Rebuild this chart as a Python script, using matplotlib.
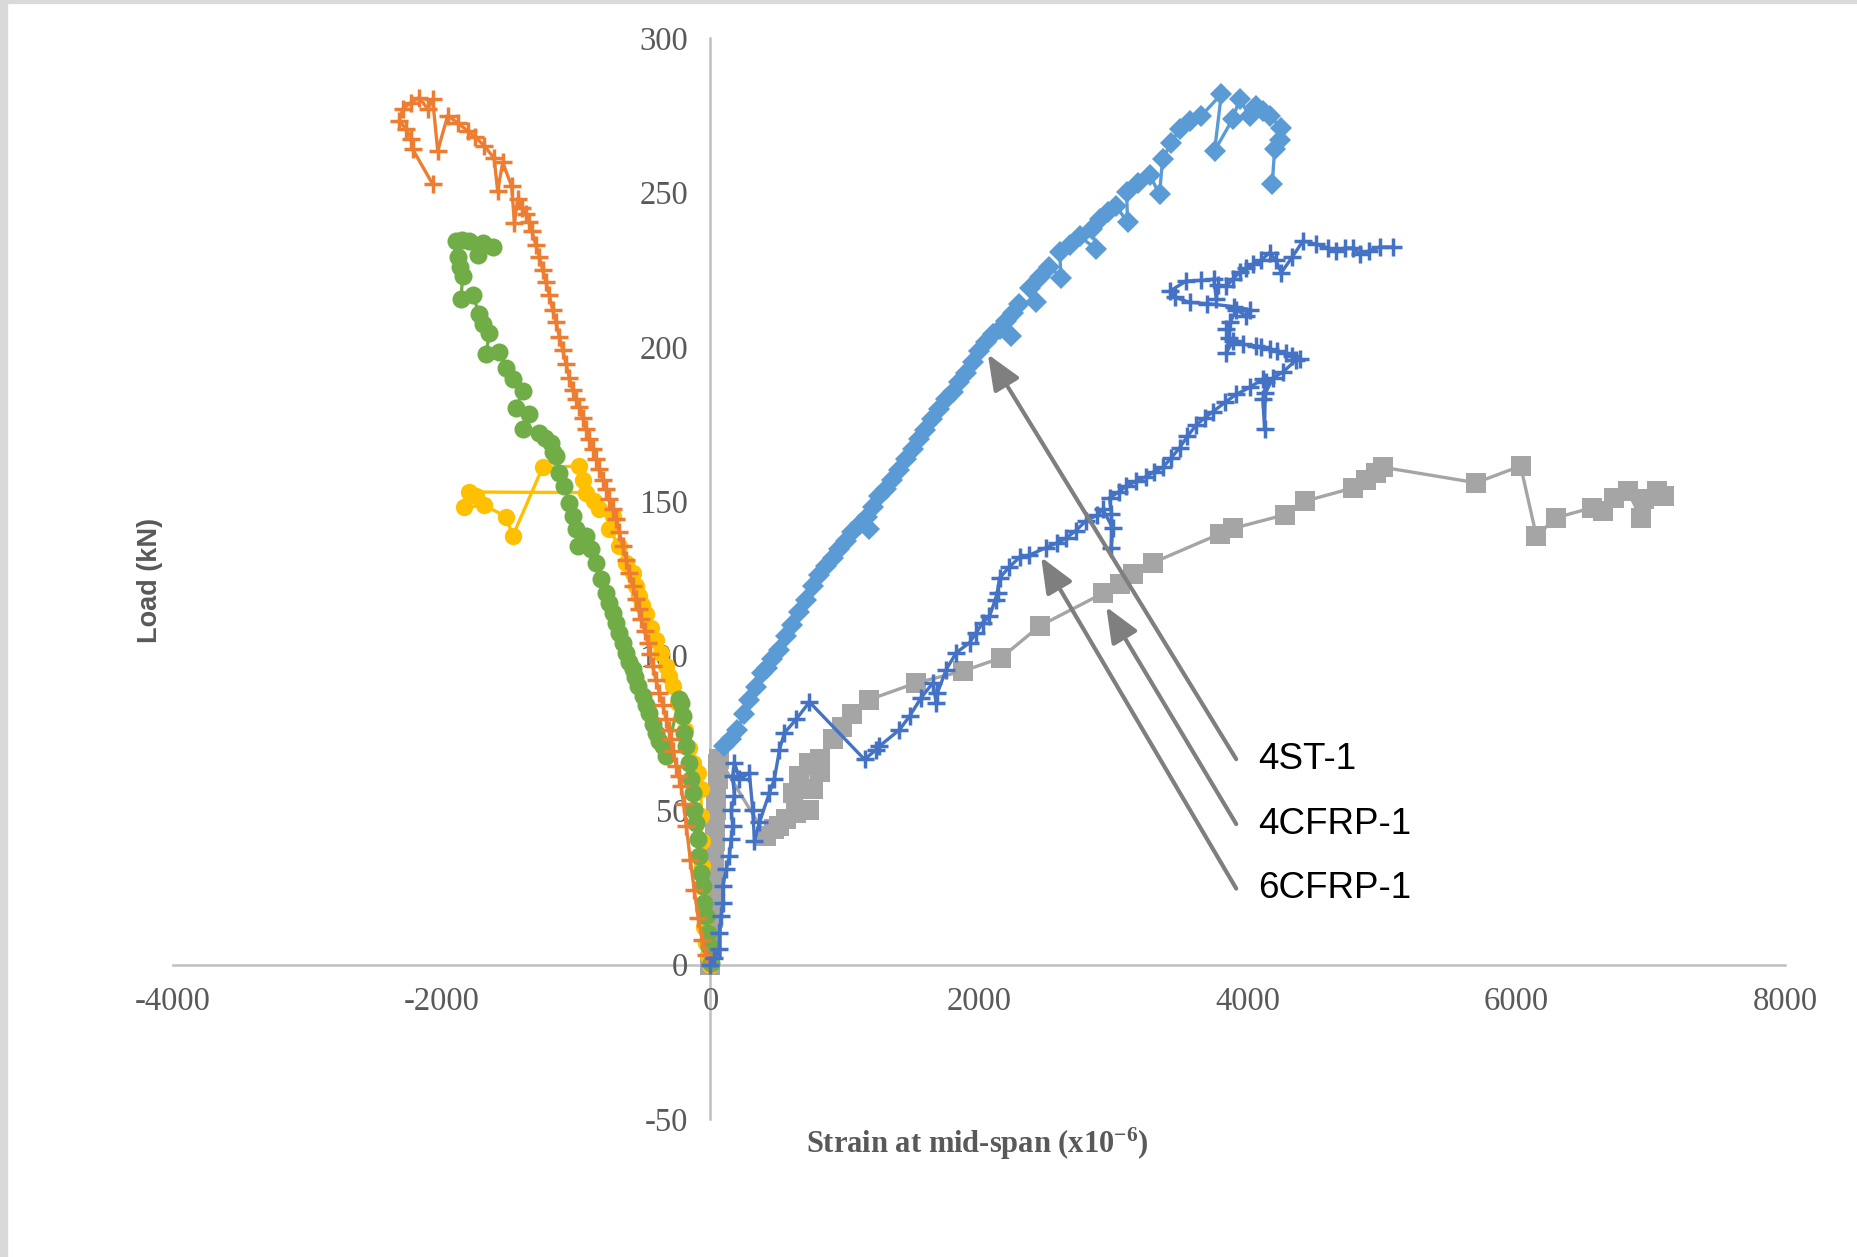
import matplotlib.pyplot as plt
from matplotlib.lines import Line2D

plt.rcParams['axes.unicode_minus'] = False
plt.rcParams['mathtext.fontset'] = 'custom'
plt.rcParams['mathtext.rm'] = 'Liberation Serif:bold'
plt.rcParams['mathtext.default'] = 'rm'

# strain (x10^-6) / load (kN) for each gauge series
blue_strain = [0, 30, 67, 67, 80, 92, 92, 117, 141, 154, 166, 154, 179, 166, 179, 216, 290, 315, 328, 365, 439, 476,
               514, 551, 638, 737, 1147, 1234, 1258, 1407, 1482, 1569, 1656, 1680, 1690, 1755, 1830, 1929, 1978, 2028,
               2077, 2137, 2127, 2152, 2226, 2301, 2375, 2500, 2580, 2649, 2720, 2797, 2880, 2921, 2996, 2984, 2985,
               2971, 3040, 3095, 3170, 3244, 3300, 3368, 3430, 3492, 3550, 3616, 3680, 3740, 3830, 3914, 4020, 4112,
               4138, 4112, 4125, 4130, 4190, 4261, 4361, 4386, 4330, 4287, 4220, 4162, 4100, 4063, 3964, 3889, 3840,
               3860, 3840, 3870, 3914, 3989, 4013, 3900, 3700, 3567, 3460, 3418, 3542, 3650, 3747, 3766, 3780, 3840,
               3890, 3939, 3990, 4039, 4100, 4162, 4210, 4249, 4330, 4411, 4510, 4600, 4659, 4720, 4784, 4833, 4900,
               4981, 5080]
blue_load = [0, 2, 4.9, 10.3, 15.6, 20, 25.4, 30.8, 35, 40.5, 44.8, 50, 54.5, 61, 65.4, 60, 62, 50, 40, 46, 55.6, 60,
             69.6, 75, 79.4, 85, 66.4, 69.6, 70.7, 76, 80.4, 86.4, 91.2, 84.8, 88, 95.5, 101, 104.2, 107.4, 110.7,
             112.7, 120.2, 118, 125.1, 128.8, 131.8, 132.6, 135, 136.5, 138.1, 140.5, 143.7, 145.5, 147.4, 141.2, 135,
             146, 151.1, 153, 154.9, 156.5, 158, 159.5, 161, 164, 167.3, 171, 174.7, 177, 179, 182, 184.6, 187, 189.6,
             188.5, 183, 173.5, 185, 190, 191.8, 195.8, 196, 197, 198, 198.5, 199.2, 200, 200.3, 200.8, 202, 198,
             203, 205.7, 208, 212, 210, 212, 213, 214, 214.4, 216, 218, 221.3, 221.5, 221.9, 215.4, 220, 219.6,
             222, 224.1, 225.5, 226.7, 228, 230.5, 228, 224, 229, 234.3, 233.2, 232, 231, 232, 232, 230, 231,
             232.3, 232.3]

orange_strain = [0, -30, -60, -90, -120, -150, -180, -200, -218, -236, -255, -275, -293, -312, -330, -355, -380, -405,
                 -430, -450, -467, -490, -516, -535, -553, -578, -603, -628, -653, -678, -703, -727, -752, -777, -802,
                 -826, -851, -876, -901, -926, -950, -975, -1000, -1025, -1050, -1075, -1100, -1124, -1150, -1175,
                 -1199, -1225, -1250, -1273, -1300, -1330, -1352, -1372, -1400, -1435, -1459, -1480, -1546, -1584,
                 -1610, -1683, -1750, -1807, -1880, -1956, -2030, -2068, -2105, -2167, -2229, -2291, -2316, -2266,
                 -2229, -2217, -2068]
orange_load = [0, 3, 8, 15, 24, 34, 45, 52, 57.8, 61, 64.2, 69, 72.9, 76, 79.4, 84, 88, 92, 96.6, 100.5, 104.2, 108,
               111.8, 115, 118.2, 122.5, 126.9, 131, 135.5, 140, 144.2, 147.5, 150.6, 154, 157, 160.5, 163.6, 167, 170,
               173.5, 177, 180.5, 183, 186, 190, 194.5, 199, 203.2, 208, 212, 216.8, 221, 225, 229.2, 233, 237.5,
               240.5, 243, 245, 247.8, 240.2, 252, 259.7, 250.5, 261, 265.1, 267.8, 269.9, 272.5, 274.8, 263.5, 280.2,
               277, 280.7, 279.1, 277, 273.2, 270.5, 267.3, 264, 252.7]

gray_strain = [0, 10, 15, 20, 22, 25, 28, 30, 32, 35, 38, 45, 55, 60, 67, 415, 470, 514, 560, 638, 737, 611, 663, 737,
               760, 812, 812, 909, 983, 1057, 1184, 1532, 1879, 2164, 2450, 2922, 3046, 3144, 3293, 3790, 3889, 4274,
               4423, 4783, 4882, 4951, 5006, 5699, 6031, 6148, 6297, 6563, 6646, 6729, 6828, 6928, 6946, 7044, 7095]
gray_load = [0, 5, 10, 15, 20, 25, 30, 35, 40, 45, 50, 55, 60, 65, 66.4, 41.6, 44, 44.8, 47, 49.1, 50.2, 55.7, 61,
             65.4, 56.7, 62.2, 66.4, 73, 77, 81, 85.8, 91.2, 95, 99.3, 109.6, 120.2, 123.3, 126.3, 130.1, 139.4,
             141.2, 145.6, 150, 154.3, 156.8, 159.3, 161, 156, 161.4, 138.8, 144.7, 147.9, 146.8, 151.2, 153.3,
             144.7, 150.6, 153.3, 151.7]

yellow_strain = [0, -20, -35, -45, -52, -58, -62, -66, -69, -69, -95, -132, -160, -190, -215, -243, -281, -310, -330,
                 -370, -405, -442, -480, -510, -529, -553, -579, -628, -680, -752, -727, -827, -870, -926, -1794,
                 -1745, -1832, -1683, -1521, -1472, -1249, -975, -951]
yellow_load = [0, 3, 7, 12, 18, 25, 32, 40, 48, 56.7, 62.1, 65.3, 70, 76, 80.5, 84.8, 90.2, 93.5, 96.6, 101, 105,
               109, 113.5, 116.5, 119.3, 122.5, 126.9, 130.1, 135.5, 140.9, 145.2, 147.4, 150, 152.8, 153, 151.7,
               148, 148.7, 145, 138.7, 161, 161.4, 157]

ltblue_strain = [104, 150, 201, 250, 290, 340, 387, 420, 462, 510, 566, 610, 663, 710, 760, 810, 864, 910, 960, 1010,
                 1057, 1184, 1110, 1162, 1210, 1258, 1305, 1355, 1405, 1459, 1505, 1556, 1600, 1653, 1705, 1757,
                 1805, 1854, 1900, 1951, 2000, 2055, 2101, 2152, 2241, 2200, 2249, 2300, 2427, 2380, 2450, 2524,
                 2611, 2599, 2680, 2748, 2872, 2840, 2897, 2960, 3020, 3105, 3098, 3180, 3269, 3343, 3366, 3430,
                 3492, 3570, 3654, 3803, 3753, 3887, 3939, 4013, 4063, 4110, 4162, 4249, 4238, 4200, 4182]
ltblue_load = [70.7, 73, 76, 81, 85.8, 90, 94.5, 96, 98.8, 102, 106.3, 110, 114, 118, 122.5, 126, 129, 131.5, 134.4,
               137, 140, 141, 142.5, 145, 148, 151.6, 154, 157, 160, 163.6, 167, 170, 173, 176.5, 180, 183, 185.5,
               188.5, 191.5, 195, 198.5, 201.5, 204, 205.7, 203.5, 208.5, 211, 214, 214.4, 219, 222.5, 226, 222.4,
               230.6, 233, 235.8, 231.6, 238, 241.4, 243.5, 245.6, 240.3, 250, 253, 255.7, 249.4, 260.8, 266,
               270.5, 273, 274.8, 281.8, 263.5, 273.7, 280.2, 274.8, 278, 276.5, 274.8, 271, 267, 264, 252.7]

green_strain = [5, -7, -20, -32, -45, -57, -69, -82, -94, -107, -119, -132, -144, -156, -181, -194, -206, -218, -231,
                -330, -355, -380, -405, -430, -454, -479, -504, -541, -560, -579, -603, -628, -653, -678, -703, -727,
                -752, -777, -814, -851, -888, -926, -988, -1000, -1025, -1050, -1087, -1124, -1149, -1174, -1186,
                -1230, -1273, -1398, -1348, -1447, -1398, -1472, -1521, -1571, -1670, -1646, -1690, -1720, -1770,
                -1857, -1844, -1865, -1882, -1894, -1850, -1795, -1695, -1621, -1733]
green_load = [0.5, 6, 10.3, 15.6, 20, 25.4, 29.7, 35, 40.5, 45.9, 50.2, 55.6, 60, 65.3, 70.7, 75, 80.4, 84.8, 86,
              67.5, 70.7, 72.5, 75, 78, 81.5, 84, 86.9, 90.2, 93, 95.6, 98, 101, 104, 107.4, 110.5, 113.9, 117,
              120.4, 124.7, 130.1, 134.4, 138.8, 135.5, 140.9, 145.2, 149.5, 154.9, 159.3, 164.6, 166, 168.9, 170.5,
              172.2, 173.4, 178.4, 180.2, 185.8, 189.5, 193.3, 198.2, 197.6, 204.4, 207.5, 210.6, 216.8, 215.6, 223,
              226, 229.2, 234.2, 234.5, 234.2, 233.5, 232.3, 229.8]

# annotation labels: text, arrow head (strain, load), label height (load)
labels = ['4ST-1', '4CFRP-1', '6CFRP-1']
heads = [(2065, 197.6), (2946, 115.8), (2462, 131.9)]
tail_loads = [66.5, 45.5, 24.6]
tail_strain = 3914

fig = plt.figure(figsize=(18.57, 12.57), dpi=100)
ax = fig.add_axes([0.0932, 0.1098, 0.8681, 0.8600])

ax.plot(gray_strain, gray_load, color='#A5A5A5', lw=2.4, marker='s', ms=14, mew=0, zorder=2)
ax.plot(yellow_strain, yellow_load, color='#FFC000', lw=2.4, marker='o', ms=12.5, mew=0, zorder=3)
ax.plot(ltblue_strain, ltblue_load, color='#5B9BD5', lw=2.4, marker='D', ms=11.5, mew=0, zorder=4)
ax.plot(green_strain, green_load, color='#70AD47', lw=2.4, marker='o', ms=13, mew=0, zorder=5)
ax.plot(orange_strain, orange_load, color='#ED7D31', lw=2.4, marker='+', ms=13, mew=2.5, zorder=6)
ax.plot(blue_strain, blue_load, color='#4472C4', lw=2.4, marker='+', ms=13, mew=2.5, zorder=7)

ax.set_xlim(-4000, 8000)
ax.set_ylim(-50, 300)
ax.set_xticks(range(-4000, 8001, 2000))
ax.set_yticks(range(-50, 301, 50))

for side in ['top', 'right']:
    ax.spines[side].set_visible(False)
ax.spines['left'].set_position(('data', 0))
ax.spines['bottom'].set_position(('data', 0))
for side in ['left', 'bottom']:
    ax.spines[side].set_color('#BFBFBF')
    ax.spines[side].set_linewidth(1.8)
    ax.spines[side].set_zorder(1)

ax.tick_params(length=0, pad=16, labelsize=23.5, labelcolor='#595959')
for lab in ax.get_xticklabels() + ax.get_yticklabels():
    lab.set_family('Liberation Serif')

for text, head, ty in zip(labels, heads, tail_loads):
    ax.annotate('', xy=head, xytext=(tail_strain, ty),
                arrowprops=dict(arrowstyle='-|>,head_length=1.2,head_width=0.5', color='#7F7F7F',
                                lw=3, mutation_scale=18, shrinkA=0, shrinkB=0),
                zorder=10)
    ax.text(4075, ty, text, fontsize=26.5, family='Liberation Sans', va='center', ha='left', color='black')

fig.text(977 / 1857, 1 - 1144 / 1257, r'Strain at mid-span (x10$^{-6}$)', ha='center', va='center',
         fontsize=22, fontweight='bold', color='#595959', family='Liberation Serif')
fig.text(150 / 1857, 1 - 580 / 1257, 'Load (kN)', rotation=90, ha='center', va='center',
         fontsize=19.5, fontweight='bold', color='#595959', family='Liberation Sans')

# light frame of the original screenshot
fig.add_artist(Line2D([0, 1], [1 - 2 / 1257] * 2, transform=fig.transFigure, color='#D9D9D9', lw=3))
fig.add_artist(Line2D([4 / 1857] * 2, [0, 1], transform=fig.transFigure, color='#D9D9D9', lw=6))

fig.savefig('out.png', dpi=100)
